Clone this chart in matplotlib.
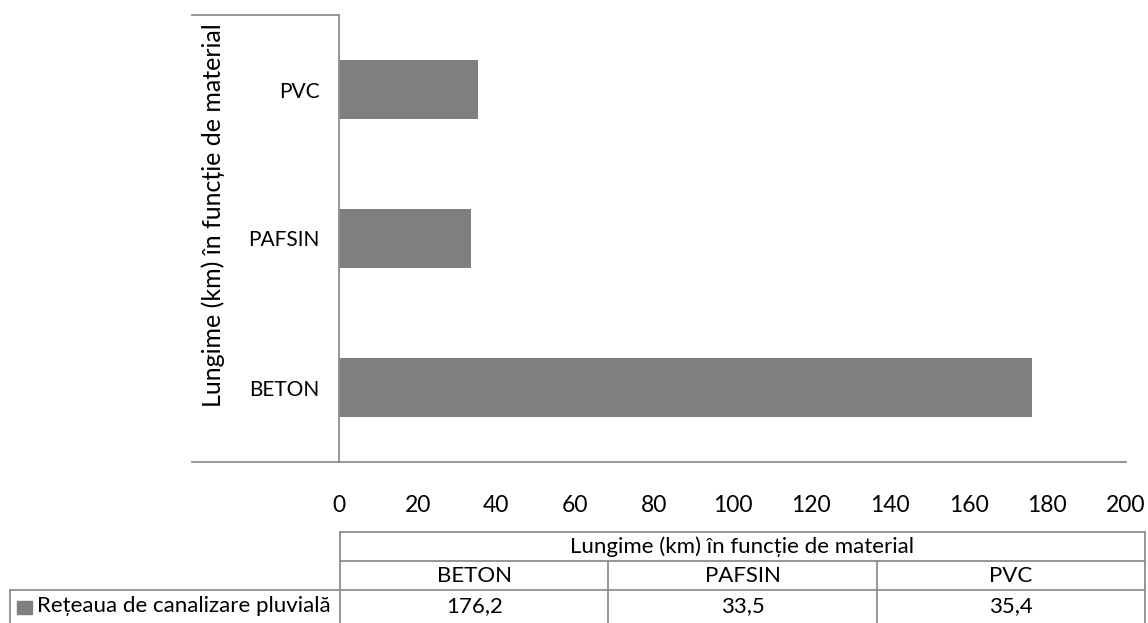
import matplotlib
matplotlib.use("Agg")
import matplotlib.pyplot as plt
from matplotlib.lines import Line2D

plt.rcParams['font.family'] = ['Lato', 'DejaVu Sans']

categories = ["BETON", "PAFSIN", "PVC"]
values = [176.2, 33.5, 35.4]
value_labels = ["176,2", "33,5", "35,4"]
series_name = "Rețeaua de canalizare pluvială"
axis_title = "Lungime (km) în funcție de material"
xticks = [0, 20, 40, 60, 80, 100, 120, 140, 160, 180, 200]

W, H = 1148, 623
bar_color = "#7f7f7f"
line_color = "#8e8e8e"

fig = plt.figure(figsize=(W / 100, H / 100), dpi=100)

# pixel helpers
def fx(px):
    return px / W

def fy(py):
    return 1 - py / H

ax_left, ax_right, ax_top, ax_bottom = 339, 1126, 15, 462
ax = fig.add_axes([fx(ax_left), fy(ax_bottom), fx(ax_right) - fx(ax_left), fy(ax_top) - fy(ax_bottom)])
ax.barh(range(len(categories)), values, height=0.4, color=bar_color)
ax.set_xlim(0, 200)
ax.set_ylim(-0.5, len(categories) - 0.5)
ax.set_xticks(xticks)
ax.set_xticklabels([str(t) for t in xticks], fontsize=16.5)
ax.set_yticks(range(len(categories)))
ax.set_yticklabels(categories, fontsize=15)
ax.tick_params(axis='both', length=0)
ax.tick_params(axis='x', pad=24)
ax.tick_params(axis='y', pad=14)
for s in ["top", "right"]:
    ax.spines[s].set_visible(False)
for s in ["left", "bottom"]:
    ax.spines[s].set_color(line_color)
    ax.spines[s].set_linewidth(1.3)

# axis title
fig.text(fx(213), fy(215), axis_title, rotation=90,
         ha="center", va="center", fontsize=18)

# extra frame lines around category label area
lw = 1.3
fig.add_artist(Line2D([fx(192), fx(ax_left)], [fy(ax_top), fy(ax_top)], color=line_color, lw=lw))
fig.add_artist(Line2D([fx(192), fx(ax_left)], [fy(ax_bottom), fy(ax_bottom)], color=line_color, lw=lw))

# data table
t_left, t_right = 340, 1145
rows = [532, 561, 590, 640]
col_w = (t_right - t_left) / len(categories)
cols = [t_left + i * col_w for i in range(len(categories) + 1)]

def hline(y, x0, x1):
    fig.add_artist(Line2D([fx(x0), fx(x1)], [fy(y), fy(y)], color=line_color, lw=lw))

def vline(x, y0, y1):
    fig.add_artist(Line2D([fx(x), fx(x)], [fy(y0), fy(y1)], color=line_color, lw=lw))

hline(rows[0], t_left, t_right)
hline(rows[1], t_left, t_right)
hline(rows[2], 10, t_right)
vline(t_left, rows[0], rows[3])
vline(t_right, rows[0], rows[3])
for x in cols[1:-1]:
    vline(x, rows[1], rows[3])
vline(10, rows[2], rows[3])

tfs = 16
fig.text(fx((t_left + t_right) / 2), fy((rows[0] + rows[1]) / 2), axis_title,
         ha="center", va="center", fontsize=tfs)
for i, (c, v) in enumerate(zip(categories, value_labels)):
    cx = (cols[i] + cols[i + 1]) / 2
    fig.text(fx(cx), fy((rows[1] + rows[2]) / 2), c, ha="center", va="center", fontsize=tfs)
    fig.text(fx(cx), fy(606), v, ha="center", va="center", fontsize=tfs)

# legend key in row header
fig.add_artist(plt.Rectangle((fx(17), fy(614)), fx(15), fy(601) - fy(614),
                             color=bar_color, transform=fig.transFigure))
fig.text(fx(37), fy(606), series_name, ha="left", va="center", fontsize=tfs)

fig.savefig("out.png", dpi=100)
